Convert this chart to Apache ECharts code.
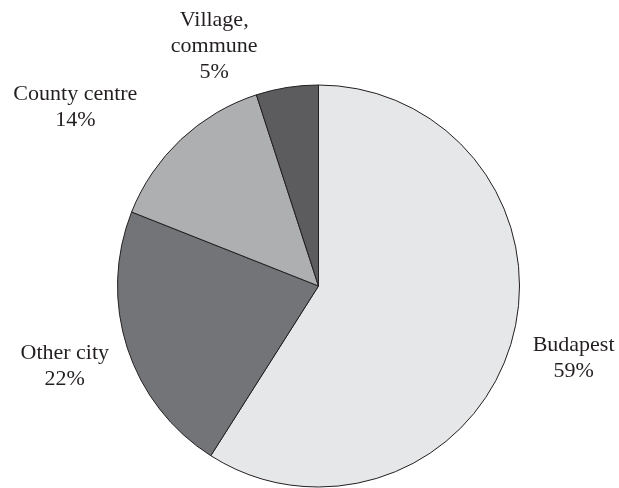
<!DOCTYPE html>
<html>
<head>
<meta charset="utf-8">
<script src="https://cdn.jsdelivr.net/npm/echarts@6/dist/echarts.min.js"></script>
<style>html,body{margin:0;padding:0;background:#fff;}#c{width:619px;height:488px;}</style>
</head>
<body>
<div id="c"></div>
<script>
var categories = ['Budapest', 'Other city', 'County centre', 'Village,\ncommune'];
var shares = [59, 22, 14, 5];
var sliceColors = ['#e6e7e8', '#737477', '#aeafb1', '#5c5c5e'];
var lineLen = [22, 15, 49, 48];
var lineLen2 = [0, 0, 5, 17];
var labelDx = [-5, 1, 0, 0];
var labelDy = [10, 13, 3, 6];

var chart = echarts.init(document.getElementById('c'), null, {renderer: 'canvas'});
var data = categories.map(function (n, i) {
  return {
    name: n,
    value: shares[i],
    itemStyle: {color: sliceColors[i]},
    labelLine: {show: false, length: lineLen[i], length2: lineLen2[i]}
  };
});
chart.setOption({
  animation: false,
  series: [{
    type: 'pie',
    center: [318.5, 286],
    radius: 201,
    startAngle: 90,
    clockwise: true,
    avoidLabelOverlap: false,
    itemStyle: {borderColor: '#231f20', borderWidth: 1},
    label: {
      show: true,
      position: 'outside',
      fontFamily: 'Liberation Serif',
      fontSize: 22,
      color: '#231f20',
      lineHeight: 26,
      formatter: function (p) {
        var lines = p.name.split('\n').concat([p.value + '%']);
        return lines.map(function (l) { return '{c|' + l + '}'; }).join('\n');
      },
      rich: {c: {align: 'center', fontFamily: 'Liberation Serif', fontSize: 22, lineHeight: 26, color: '#231f20'}}
    },
    labelLayout: function (p) {
      return {dx: labelDx[p.dataIndex], dy: labelDy[p.dataIndex]};
    },
    emphasis: {disabled: true},
    data: data
  }]
});
</script>
</body>
</html>
